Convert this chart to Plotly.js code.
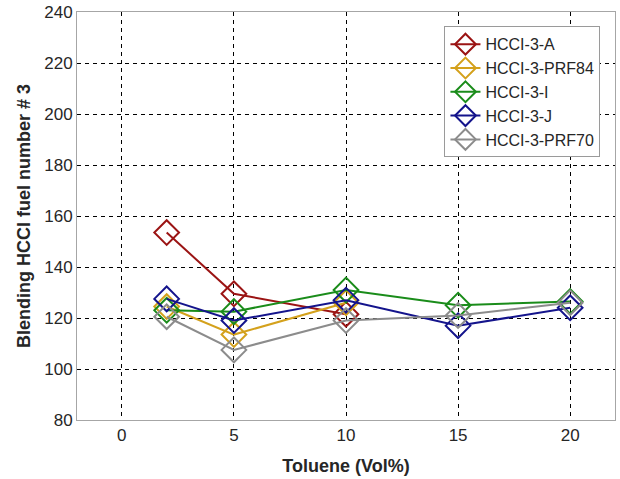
<!DOCTYPE html>
<html>
<head>
<meta charset="utf-8">
<script src="https://cdn.plot.ly/plotly-3.0.1.min.js"></script>
<style>html,body{margin:0;padding:0;background:#fff;}#chart{width:620px;height:479px;}</style>
</head>
<body>
<div id="chart"></div>
<script>
const seriesNames = ["HCCI-3-A", "HCCI-3-PRF84", "HCCI-3-I", "HCCI-3-J", "HCCI-3-PRF70"];
const xA = [2, 5, 10];
const yA = [153.5, 129.5, 121.5];
const xPRF84 = [2, 5, 10];
const yPRF84 = [124.5, 113.5, 126];
const xI = [2, 5, 10, 15, 20];
const yI = [123, 122.5, 131, 125, 126.5];
const xJ = [2, 5, 10, 15, 20];
const yJ = [127.5, 119, 127, 117, 124];
const xPRF70 = [2, 5, 10, 15, 20];
const yPRF70 = [120.5, 107.5, 119, 121, 126];
const colors = ["#9b1414", "#d4a11c", "#1a8c1a", "#14148c", "#8c8c8c"];

const xs = [xA, xPRF84, xI, xJ, xPRF70];
const ys = [yA, yPRF84, yI, yJ, yPRF70];
const traces = seriesNames.map((n, i) => ({
  x: xs[i], y: ys[i], name: n, type: "scatter", mode: "lines+markers",
  line: {color: colors[i], width: 2},
  marker: {symbol: "diamond-open", size: 19, color: colors[i], line: {width: 2, color: colors[i]}}
}));

const layout = {
  width: 620, height: 479,
  margin: {l: 77, r: 5, t: 12, b: 59},
  paper_bgcolor: "#fff", plot_bgcolor: "#fff",
  font: {family: "Liberation Sans, Arial, sans-serif", color: "#262626"},
  showlegend: true,
  legend: {x: 0.683, y: 0.965, xanchor: "left", yanchor: "top", bgcolor: "#fff",
    bordercolor: "#9a9a9a", borderwidth: 1, font: {size: 16, color: "#262626"},
    tracegroupgap: 0, itemwidth: 30},
  xaxis: {range: [-2, 22], tickvals: [0, 5, 10, 15, 20], ticks: "", showgrid: true,
    gridcolor: "#000", griddash: "4px,4px", gridwidth: 1, zeroline: false,
    showline: true, linecolor: "#a6a6a6", linewidth: 1, mirror: true,
    tickfont: {size: 17, color: "#262626"},
    title: {text: "<b>Toluene (Vol%)</b>", font: {size: 18, color: "#262626"}, standoff: 14}},
  yaxis: {range: [80, 240], tickvals: [80, 100, 120, 140, 160, 180, 200, 220, 240], ticks: "",
    showgrid: true, gridcolor: "#000", griddash: "4px,4px", gridwidth: 1, zeroline: false,
    showline: true, linecolor: "#a6a6a6", linewidth: 1, mirror: true,
    tickfont: {size: 17, color: "#262626"},
    title: {text: "<b>Blending HCCI fuel number # 3</b>", font: {size: 18, color: "#262626"}, standoff: 8}}
};
Plotly.newPlot("chart", traces, layout, {displayModeBar: false, staticPlot: true});
</script>
</body>
</html>
